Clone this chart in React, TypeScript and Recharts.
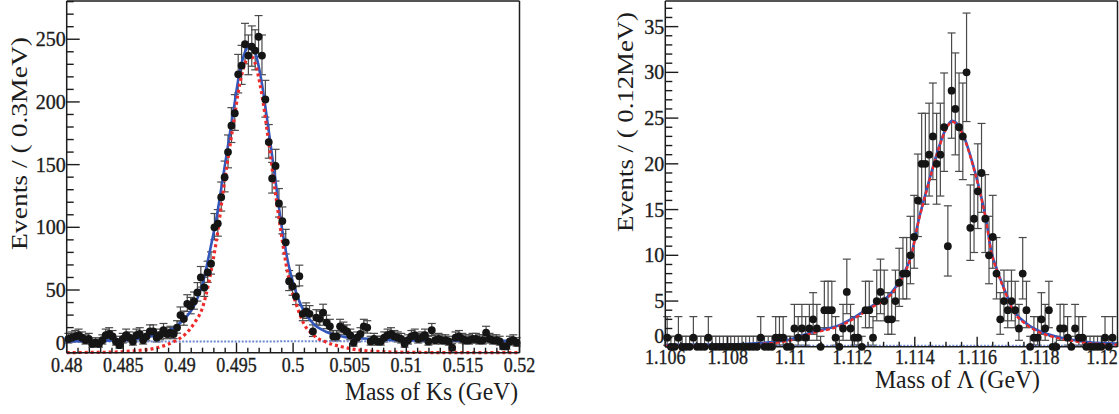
import React from "react";
import { ComposedChart, Scatter, Line, XAxis, YAxis, ErrorBar } from "recharts";

// ---------- Ks panel: 133 bins of 0.3 MeV starting at 0.48 GeV ----------
const ksBinLo = 0.48;
const ksBinWidth = 0.0003;
const ksCounts = [
  11, 12, 13, 14, 12, 10, 11, 7, 8, 7,
  10, 14, 15, 13, 9, 6, 11, 14, 12, 9,
  14, 15, 10, 13, 17, 17, 12, 14, 18, 15,
  16, 15, 20, 30, 27, 39, 37, 41, 48, 60,
  52, 64, 71, 100, 103, 124, 140, 160, 181, 191,
  222, 229, 246, 237, 244, 241, 252, 237, 202, 168,
  139, 149, 119, 105, 88, 57, 53, 45, 61, 31,
  33, 31, 17, 28, 27, 32, 24, 21, 13, 13,
  21, 19, 17, 14, 8, 12, 15, 21, 20, 9,
  11, 9, 9, 12, 14, 15, 13, 12, 11, 7,
  10, 13, 14, 11, 12, 14, 9, 18, 10, 11,
  10, 10, 9, 4, 12, 13, 11, 10, 10, 11,
  11, 10, 10, 16, 11, 10, 10, 9, 5, 5,
  9, 10, 8,
];

// fit curves
const ksFitMass = [
  0.48, 0.483, 0.486, 0.488, 0.4895, 0.4905, 0.4913, 0.492, 0.4926, 0.4932,
  0.494, 0.4947, 0.4953, 0.4959, 0.4962, 0.4966, 0.4972, 0.4978, 0.4984, 0.499,
  0.4996, 0.5003, 0.5009, 0.5018, 0.5029, 0.5044, 0.5059, 0.509, 0.513, 0.52,
];
const ksFitTotal = [
  9.0, 9.5, 11.0, 14.5, 20, 28, 38, 55, 79, 106,
  151, 191, 225, 243, 246, 241, 217, 180, 140, 100,
  70, 47, 34, 23, 16.7, 12.8, 11.5, 10.1, 9.7, 9.5,
];
const ksFitSignal = [
  0.1, 0.3, 1.5, 4, 9, 15, 24, 36, 58, 88,
  140, 181, 215, 234, 237, 232, 208, 171, 130, 92,
  60, 38, 24, 14, 8.5, 4.5, 2, 0.5, 0.1, 0,
];
const ksBgMass = [0.48, 0.52];
const ksBg = [8.8, 9.3];

const ksXMajor = [0.48, 0.485, 0.49, 0.495, 0.5, 0.505, 0.51, 0.515, 0.52];
const ksXLabels = ["0.48", "0.485", "0.49", "0.495", "0.5", "0.505", "0.51", "0.515", "0.52"];
const ksYMajor = [0, 50, 100, 150, 200, 250];
const ksYLabels = ["0", "50", "100", "150", "200", "250"];

// ---------- Lambda panel: 120 bins of 0.12 MeV starting at 1.106 GeV ----------
const lamBinLo = 1.106;
const lamBinWidth = 0.00012;
const lamCounts = [
  1, 0, 0, 1, 0, 0, 0, 1, 0, 0,
  0, 1, 0, 0, 0, 0, 0, 0, 0, 0,
  0, 0, 0, 0, 0, 1, 0, 0, 0, 1,
  1, 1, 0, 0, 2, 1, 2, 1, 2, 3,
  2, 0, 4, 4, 4, 1, 0, 2, 6, 2,
  1, 1, 0, 4, 4, 1, 5, 6, 5, 3,
  3, 5, 7, 8, 8, 10, 12, 16, 20, 20,
  21, 23, 20, 21, 24, 11, 28, 26, 24, 23,
  30, 13, 14, 17, 19, 14, 10, 12, 8, 3,
  5, 4, 5, 4, 2, 8, 4, 0, 1, 1,
  3, 2, 4, 0, 0, 2, 2, 1, 0, 2,
  1, 1, 0, 0, 0, 0, 0, 1, 0, 1,
];

const lamFitMass = [
  1.106, 1.108, 1.109, 1.11, 1.1107, 1.1116, 1.1121, 1.1126, 1.1132, 1.1136,
  1.1139, 1.1141, 1.11435, 1.11456, 1.11478, 1.11499, 1.1152, 1.11542, 1.11563, 1.11585,
  1.11606, 1.11627, 1.11645, 1.11665, 1.11692, 1.11713, 1.11756, 1.118, 1.1185, 1.119,
  1.1196, 1.1205,
];
const lamFitTotal = [
  0.2, 0.25, 0.4, 0.8, 1.6, 2.4, 3.3, 4.4, 5.7, 7.7,
  10.2, 13.5, 16.8, 19.4, 21.9, 23.8, 24.7, 24.1, 22.5, 20.1,
  17.4, 14.2, 10.5, 8.3, 5.9, 4.2, 2.6, 1.7, 1.15, 0.8,
  0.5, 0.35,
];
const lamFitSignal = [
  0.08, 0.13, 0.28, 0.68, 1.48, 2.28, 3.18, 4.28, 5.58, 7.58,
  10.1, 13.4, 16.7, 19.3, 21.8, 23.7, 24.6, 24.0, 22.4, 20.0,
  17.3, 14.1, 10.4, 8.2, 5.8, 4.1, 2.48, 1.58, 1.03, 0.68,
  0.38, 0.23,
];
const lamBgMass = [1.106, 1.1205];
const lamBg = [0.12, 0.12];

const lamXMajor = [1.106, 1.108, 1.11, 1.112, 1.114, 1.116, 1.118, 1.12];
const lamXLabels = ["1.106", "1.108", "1.11", "1.112", "1.114", "1.116", "1.118", "1.12"];
const lamYMajor = [0, 5, 10, 15, 20, 25, 30, 35];
const lamYLabels = ["0", "5", "10", "15", "20", "25", "30", "35"];

// 68% Poisson intervals (low, high offsets) for n = 0..30
const poissonLo = [
  0, 0.827, 1.291, 1.633, 1.914, 2.159, 2.379, 2.58, 2.768, 2.943, 3.108,
  3.265, 3.414, 3.556, 3.692, 3.823, 3.949, 4.07, 4.188, 4.301, 4.411,
  4.519, 4.623, 4.725, 4.825, 4.922, 5.017, 5.109, 5.2, 5.29, 5.377,
];
const poissonHi = [
  1.148, 2.299, 2.637, 2.918, 3.162, 3.382, 3.583, 3.77, 3.944, 4.108, 4.265,
  4.413, 4.555, 4.691, 4.822, 4.949, 5.071, 5.189, 5.304, 5.416, 5.524,
  5.63, 5.733, 5.834, 5.932, 6.029, 6.123, 6.215, 6.306, 6.395, 6.482,
];

const INK = "#1c1c1c";
const FONT = "'Liberation Serif', 'DejaVu Serif', serif";
const BLUE = "#3356bb";
const RED = "#ee2b2b";
const BG_BLUE = "#6f8ad2";

const errFor = (n: number): [number, number] =>
  n <= 30 ? [poissonLo[n], poissonHi[n]] : [Math.sqrt(n) - 0.1, Math.sqrt(n) + 1];

const toPoints = (counts: number[], lo: number, w: number) =>
  counts.map((n, i) => ({ x: lo + (i + 0.5) * w, y: n, err: errFor(n) }));

const toCurve = (xs: number[], ys: number[]) => xs.map((x, i) => ({ x, y: ys[i] }));

const steps = (a: number, b: number, step: number) => {
  const out: number[] = [];
  for (let k = 0; a + k * step <= b + step * 1e-6; k++) out.push(+(a + k * step).toFixed(6));
  return out;
};

const majorIndex = (v: number, majors: number[]) =>
  majors.findIndex((m) => Math.abs(m - v) < 1e-7);

// ROOT-style inward ticks
const makeTick =
  (side: "bottom" | "top" | "left" | "right", majors: number[], labels?: string[], opts: any = {}) =>
  (p: any) => {
    const v = p.payload.value;
    const k = majorIndex(v, majors);
    const horiz = side === "bottom" || side === "top";
    const len = horiz ? (k >= 0 ? 10 : 5) : k >= 0 ? 13 : 7;
    let x2 = p.x;
    let y2 = p.y;
    if (side === "bottom") y2 = p.y - len;
    if (side === "top") y2 = p.y + len;
    if (side === "left") x2 = p.x + len;
    if (side === "right") x2 = p.x - len;
    let label = null;
    if (labels && k >= 0) {
      if (side === "bottom") {
        label = (
          <text
            transform={`translate(${p.x},${p.y + opts.dy}) scale(${opts.sx},1)`}
            textAnchor="middle"
            fontSize={20}
            fontFamily={FONT}
            fill={INK}
            stroke={INK}
            strokeWidth={0.35}
          >
            {labels[k]}
          </text>
        );
      } else if (side === "left") {
        const lift = v === 0 ? opts.zeroLift : 0;
        label = (
          <text
            x={p.x - 1}
            y={p.y + 7 - lift}
            textAnchor="end"
            fontSize={20}
            fontFamily={FONT}
            fill={INK}
            stroke={INK}
            strokeWidth={0.35}
          >
            {labels[k]}
          </text>
        );
      }
    }
    return (
      <g>
        <line x1={p.x} y1={p.y} x2={x2} y2={y2} stroke={INK} strokeWidth={1.4} />
        {label}
      </g>
    );
  };

const axisLine = { stroke: INK, strokeWidth: 1.5 };

const dot = (p: any) => <circle cx={p.cx} cy={p.cy} r={3.9} fill="#151515" />;

interface PanelProps {
  width: number;
  margin: { top: number; right: number; bottom: number; left: number };
  points: { x: number; y: number; err: [number, number] }[];
  total: { x: number; y: number }[];
  signal: { x: number; y: number }[];
  bg: { x: number; y: number }[];
  xDomain: [number, number];
  yDomain: [number, number];
  xTicks: number[];
  yTicks: number[];
  xMajor: number[];
  xLabels: string[];
  yMajor: number[];
  yLabels: string[];
  labelDy: number;
  zeroLift: number;
  signalDash: string;
  signalWidth: number;
}

function Panel(props: PanelProps) {
  const {
    width, margin, points, total, signal, bg, xDomain, yDomain, xTicks, yTicks,
    xMajor, xLabels, yMajor, yLabels, labelDy, zeroLift, signalDash, signalWidth,
  } = props;
  return (
    <ComposedChart width={width} height={414} margin={margin}>
      <XAxis
        type="number"
        dataKey="x"
        domain={xDomain}
        ticks={xTicks}
        interval={0}
        height={30}
        tickSize={0}
        tickMargin={0}
        tickLine={false}
        axisLine={axisLine}
        tick={makeTick("bottom", xMajor, xLabels, { dy: labelDy, sx: 0.9 })}
      />
      <XAxis
        xAxisId="top"
        orientation="top"
        type="number"
        dataKey="x"
        domain={xDomain}
        ticks={xTicks}
        interval={0}
        height={1}
        tickSize={0}
        tickMargin={0}
        tickLine={false}
        axisLine={axisLine}
        tick={makeTick("top", xMajor)}
      />
      <YAxis
        type="number"
        dataKey="y"
        domain={yDomain}
        ticks={yTicks}
        interval={0}
        width={60}
        tickSize={0}
        tickMargin={0}
        tickLine={false}
        axisLine={axisLine}
        tick={makeTick("left", yMajor, yLabels, { zeroLift })}
      />
      <YAxis
        yAxisId="r"
        orientation="right"
        type="number"
        dataKey="y"
        domain={yDomain}
        ticks={yTicks}
        interval={0}
        width={1}
        tickSize={0}
        tickMargin={0}
        tickLine={false}
        axisLine={axisLine}
        tick={makeTick("right", yMajor)}
      />
      <Scatter data={points} dataKey="y" shape={dot} isAnimationActive={false}>
        <ErrorBar dataKey="err" direction="y" width={4} stroke="#4a4a4a" strokeWidth={1.2} isAnimationActive={false} />
      </Scatter>
      <Line
        data={bg}
        dataKey="y"
        type="linear"
        dot={false}
        stroke={BG_BLUE}
        strokeWidth={2}
        strokeDasharray="2 1.5"
        isAnimationActive={false}
      />
      <Line
        data={total}
        dataKey="y"
        type="monotone"
        dot={false}
        stroke={BLUE}
        strokeWidth={2.6}
        isAnimationActive={false}
      />
      <Line
        data={signal}
        dataKey="y"
        type="monotone"
        dot={false}
        stroke={RED}
        strokeWidth={signalWidth}
        strokeDasharray={signalDash}
        isAnimationActive={false}
      />
    </ComposedChart>
  );
}

export default function App() {
  const ksPoints = toPoints(ksCounts, ksBinLo, ksBinWidth);
  const lamPoints = toPoints(lamCounts, lamBinLo, lamBinWidth);

  return (
    <div style={{ position: "absolute", left: 0, top: 0, width: 1119, height: 414, background: "#fff" }}>
      <div style={{ position: "absolute", left: 0, top: 0 }}>
        <Panel
          width={560}
          margin={{ top: 0, right: 39.5, bottom: 31.3, left: 6.7 }}
          points={ksPoints}
          total={toCurve(ksFitMass, ksFitTotal)}
          signal={toCurve(ksFitMass, ksFitSignal)}
          bg={toCurve(ksBgMass, ksBg)}
          xDomain={[0.48, 0.52]}
          yDomain={[0, 280.5]}
          xTicks={steps(0.48, 0.52, 0.001)}
          yTicks={steps(0, 280, 10)}
          xMajor={ksXMajor}
          xLabels={ksXLabels}
          yMajor={ksYMajor}
          yLabels={ksYLabels}
          labelDy={19.5}
          zeroLift={10}
          signalDash="3 3"
          signalWidth={3.2}
        />
      </div>
      <div style={{ position: "absolute", left: 560, top: 0 }}>
        <Panel
          width={559}
          margin={{ top: 0, right: 0.5, bottom: 37.2, left: 45.3 }}
          points={lamPoints}
          total={toCurve(lamFitMass, lamFitTotal)}
          signal={toCurve(lamFitMass, lamFitSignal)}
          bg={toCurve(lamBgMass, lamBg)}
          xDomain={[1.106, 1.1205]}
          yDomain={[0, 37.8]}
          xTicks={steps(1.106, 1.1205, 0.0005)}
          yTicks={steps(0, 37, 1)}
          xMajor={lamXMajor}
          xLabels={lamXLabels}
          yMajor={lamYMajor}
          yLabels={lamYLabels}
          labelDy={17}
          zeroLift={11}
          signalDash="4 2.5"
          signalWidth={2.4}
        />
      </div>
      <svg
        width={1119}
        height={414}
        style={{ position: "absolute", left: 0, top: 0, pointerEvents: "none" }}
        fontFamily={FONT}
        fill={INK}
      >
        <text transform="translate(27,250) rotate(-90)" fontSize={24} textLength={213} lengthAdjust="spacingAndGlyphs">
          Events / ( 0.3MeV)
        </text>
        <text x={345} y={400} fontSize={25} textLength={173} lengthAdjust="spacingAndGlyphs">
          Mass of Ks (GeV)
        </text>
        <text transform="translate(633,232) rotate(-90)" fontSize={24} textLength={220} lengthAdjust="spacingAndGlyphs">
          Events / ( 0.12MeV)
        </text>
        <text x={875} y={388} fontSize={25} textLength={165} lengthAdjust="spacingAndGlyphs">
          Mass of Λ (GeV)
        </text>
      </svg>
    </div>
  );
}
